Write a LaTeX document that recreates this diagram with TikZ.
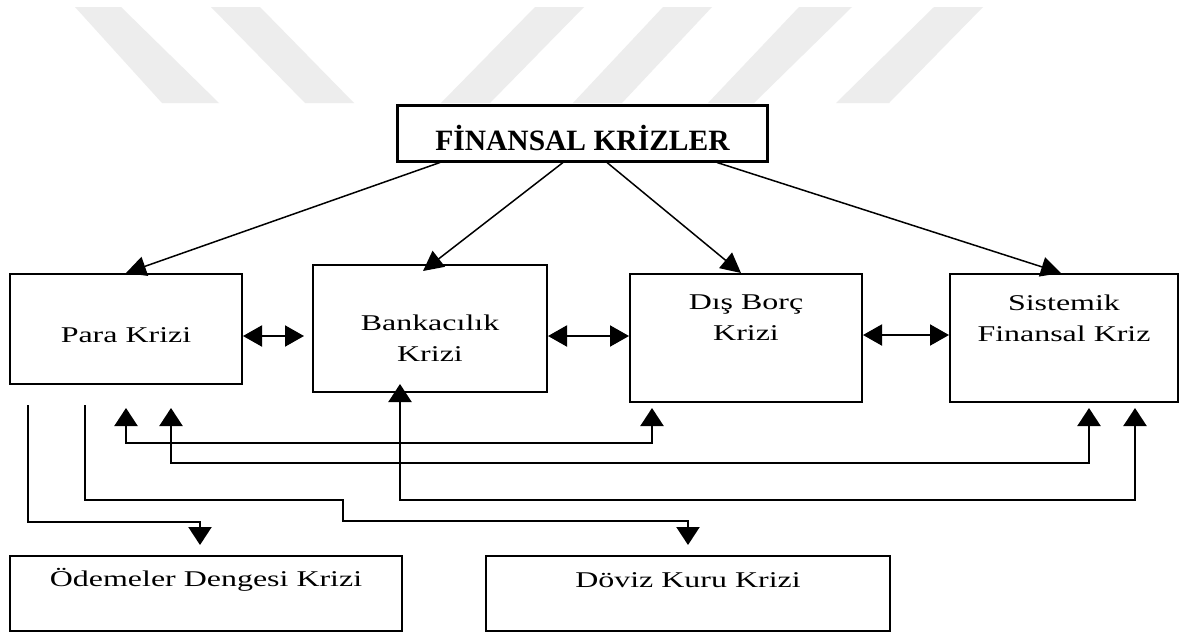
\documentclass[tikz,border=0pt]{standalone}
\usepackage{fontspec}
\setmainfont{Liberation Serif}
\newfontfamily\genis{Liberation Serif}[FakeStretch=1.42]
\usetikzlibrary{arrows.meta,positioning}
\definecolor{wm}{rgb}{.93,.93,.93}
\def\Baslik{FİNANSAL KRİZLER}

\begin{document}
\begin{tikzpicture}[% styles for the whole figure
			x=1pt, y=-1pt,		% pixel like units, y grows downwards
			every node/.style={
				align=center,		% so that "\\" breaks lines
				inner sep=0pt
			},
			every edge/.style={draw},
			kutu/.style={rectangle,draw=black,line width=2pt},
			yazi/.style={font=\genis\fontsize{22.5}{31}\selectfont},
			ok/.style={line width=1.5pt,-{Triangle[length=20pt,width=20pt]}},
			cift/.style={line width=2pt,{Triangle[length=19pt,width=21pt]}-{Triangle[length=19pt,width=21pt]}},
			hat/.style={line width=2.2pt,-{Triangle[length=18pt,width=23pt]}},
			hatcift/.style={line width=2.2pt,{Triangle[length=18pt,width=23pt]}-{Triangle[length=18pt,width=23pt]}}
		]
		\useasboundingbox[fill=white] (0,0) rectangle (1182,632);
		% watermark stripes
		\fill[wm] (75,7) -- (121,7) -- (219,103) -- (162,103) -- cycle;
		\fill[wm] (211,7) -- (260,7) -- (354,103) -- (305,103) -- cycle;
		\fill[wm] (535,7) -- (584,7) -- (490,103) -- (441,103) -- cycle;
		\fill[wm] (663,7) -- (712,7) -- (622,103) -- (573,103) -- cycle;
		\fill[wm] (799,7) -- (852,7) -- (754,103) -- (708,103) -- cycle;
		\fill[wm] (934,7) -- (983,7) -- (889,103) -- (836,103) -- cycle;
		% boxes
		\node[kutu,line width=3pt,minimum width=370pt,minimum height=56pt](R1) at (582.5,133){};
		\node[kutu,minimum width=232pt,minimum height=110pt](R2) at (126,329){};
		\node[kutu,minimum width=234pt,minimum height=127pt](R3) at (430,328.5){};
		\node[kutu,minimum width=232pt,minimum height=128pt](R4) at (746,338){};
		\node[kutu,minimum width=228pt,minimum height=128pt](R5) at (1064,338){};
		\node[kutu,minimum width=392pt,minimum height=75pt](R6) at (206,593.5){};
		\node[kutu,minimum width=404pt,minimum height=75pt](R7) at (688,593.5){};
		% texts
		\node[font=\bfseries\fontsize{29.5}{34}\selectfont](T1) at ([yshift=-5pt]R1){\Baslik};
		\node[yazi](T2) at ([yshift=-6pt]R2){Para Krizi};
		\node[yazi](T3) at ([yshift=-10pt]R3){Bankacılık \\ Krizi};
		\node[yazi](T4) at ([yshift=20pt]R4){Dış Borç \\ Krizi};
		\node[yazi](T5) at ([yshift=20pt]R5){Sistemik \\ Finansal Kriz};
		\node[yazi](T6) at ([yshift=13.5pt]R6){Ödemeler Dengesi Krizi};
		\node[yazi](T7) at ([yshift=13.5pt]R7){Döviz Kuru Krizi};
		% free ends of the two lines leaving Para Krizi
		\coordinate (A1) at (28,405);
		\coordinate (A2) at (85,405);
		\path[ok]
		([xshift=-142.5pt]R1.south) edge (R2.north)
		([xshift=-19.5pt]R1.south) edge ([shift={(-7,7)}]R3.north)
		([xshift=24.5pt]R1.south) edge ([xshift=-5pt]R4.north)
		([xshift=134.5pt]R1.south) edge ([xshift=-3pt]R5.north)
		;
		\path[cift]
		([yshift=-7pt]R2.east) edge ([shift={(-8,7.5)}]R3.west)
		([yshift=-7.5pt]R3.east) edge ([yshift=2pt]R4.west)
		([yshift=3pt]R4.east) edge ([yshift=3pt]R5.west)
		;
		\draw[hat] (A1) |- ([shift={(-6,-33)}]R6.north) -- ([shift={(-6,-10)}]R6.north);
		\draw[hat] (A2) |- (343,500) |- ([yshift=34pt]R7.north) -- ([yshift=10pt]R7.north);
		\draw[hatcift] ([yshift=-23pt]R2.south) |- ([shift={(-94,40)}]R4.south) -- ([shift={(-94,5)}]R4.south);
		\draw[hatcift] ([shift={(45,23)}]R2.south) |- ([shift={(25,60)}]R5.south) -- ([shift={(25,5)}]R5.south);
		\draw[hatcift] ([shift={(-30,-9)}]R3.south) |- ([shift={(71,97)}]R5.south) -- ([shift={(71,5)}]R5.south);
	\end{tikzpicture}
\end{document}
